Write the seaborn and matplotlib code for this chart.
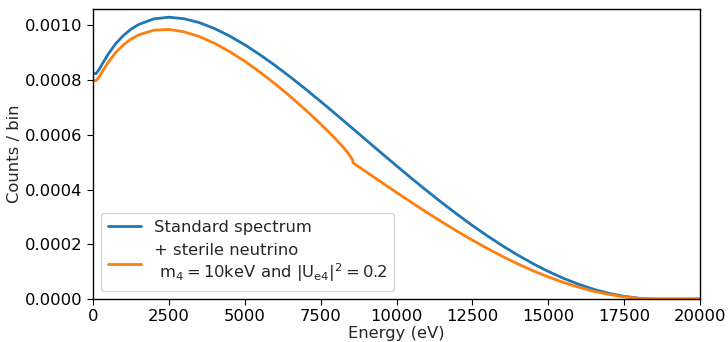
import numpy as np
import pandas as pd
import matplotlib
matplotlib.use("Agg")
import matplotlib.pyplot as plt
import seaborn as sns

energy = [0, 100, 200, 300, 500, 750, 1000, 1250, 1500, 2000, 2500, 3000, 3500,
          4000, 4500, 5000, 5500, 6000, 6500, 7000, 7500, 8000, 8250, 8400,
          8500, 8550, 8574, 9000, 9500, 10000, 10500, 11000, 11500, 12000,
          12500, 13000, 13500, 14000, 14500, 15000, 15500, 16000, 16500,
          17000, 17500, 18000, 18300, 18574, 19000, 20000]

standard = [8.246e-4, 8.239e-4, 8.386e-4, 8.581e-4, 8.948e-4, 9.335e-4, 9.631e-4,
            9.860e-4, 1.0032e-3, 1.0238e-3, 1.0300e-3, 1.0244e-3, 1.0103e-3,
            9.888e-4, 9.614e-4, 9.293e-4, 8.930e-4, 8.536e-4, 8.116e-4,
            7.677e-4, 7.221e-4, 6.757e-4, 6.521e-4, 6.379e-4, 6.285e-4,
            6.238e-4, 6.215e-4, 5.811e-4, 5.337e-4, 4.869e-4, 4.406e-4,
            3.955e-4, 3.516e-4, 3.093e-4, 2.687e-4, 2.303e-4, 1.939e-4,
            1.602e-4, 1.291e-4, 1.008e-4, 7.57e-5, 5.39e-5, 3.54e-5, 2.07e-5,
            9.8e-6, 2.8e-6, 6.5e-7, 0.0, 0.0, 0.0]

sterile = [7.987e-4, 7.977e-4, 8.116e-4, 8.301e-4, 8.649e-4, 9.013e-4, 9.289e-4,
           9.498e-4, 9.652e-4, 9.823e-4, 9.853e-4, 9.766e-4, 9.594e-4,
           9.349e-4, 9.044e-4, 8.691e-4, 8.294e-4, 7.864e-4, 7.403e-4,
           6.915e-4, 6.397e-4, 5.845e-4, 5.541e-4, 5.338e-4, 5.180e-4,
           5.077e-4, 4.972e-4, 4.649e-4, 4.270e-4, 3.895e-4, 3.525e-4,
           3.164e-4, 2.813e-4, 2.474e-4, 2.150e-4, 1.842e-4, 1.552e-4,
           1.281e-4, 1.032e-4, 8.07e-5, 6.06e-5, 4.31e-5, 2.83e-5, 1.66e-5,
           7.8e-6, 2.3e-6, 5.2e-7, 0.0, 0.0, 0.0]

labels = ["Standard spectrum",
          "+ sterile neutrino\n $\\mathrm{m_4 = 10keV\\ and\\ |U_{e4}|^2 = 0.2}$"]

sns.set_style("ticks")
plt.rcParams['font.family'] = ['DejaVu Sans']

df = pd.DataFrame({
    "Energy": energy * 2,
    "Counts": standard + sterile,
    "Series": [labels[0]] * len(energy) + [labels[1]] * len(energy),
})

fs = 11.8
fig = plt.figure(figsize=(7.28, 3.42), dpi=100)
ax = fig.add_axes([93 / 728, 1 - 299 / 342, (700 - 93) / 728, (299 - 9) / 342])

sns.lineplot(data=df, x="Energy", y="Counts", hue="Series",
             palette=["#1f77b4", "#ff7f0e"], linewidth=2, ax=ax, sort=False)

ax.set_xlim(0, 20000)
ax.set_ylim(0, 0.00106)
ax.set_xticks([0, 2500, 5000, 7500, 10000, 12500, 15000, 17500, 20000])
ax.set_yticks([0, 0.0002, 0.0004, 0.0006, 0.0008, 0.0010])
ax.set_yticklabels(["0.0000", "0.0002", "0.0004", "0.0006", "0.0008", "0.0010"])
ax.tick_params(labelsize=fs, colors="black", length=4)
ax.set_xlabel("Energy (eV)", fontsize=fs, labelpad=1)
ax.set_ylabel("Counts / bin", fontsize=fs, labelpad=2)
for s in ax.spines.values():
    s.set_color("black")
    s.set_linewidth(1.0)

leg = ax.legend(loc="lower left", fontsize=fs, frameon=True, title=None,
                handlelength=2.0)
leg.get_frame().set_edgecolor("#cccccc")

fig.savefig("out.png", dpi=100)
